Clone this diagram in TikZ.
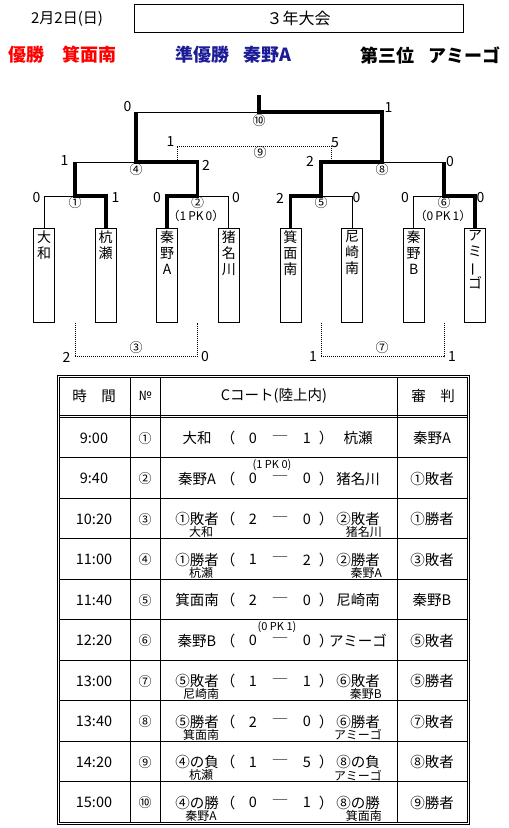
\documentclass[tikz,border=0pt]{standalone}
\usepackage{fontspec}
\setmainfont{Noto Sans CJK JP}
\usepackage{tikz}
\usetikzlibrary{positioning}
\definecolor{winnerred}{RGB}{255, 0, 0}
\definecolor{runnerblue}{RGB}{28, 28, 150}
\newcommand{\vname}[1]{\parbox[t][90pt][t]{17pt}{\centering #1}}

\begin{document}
\begin{tikzpicture}[x=1pt, y=-1pt,
    team/.style={draw, line width=0.8pt, anchor=north, inner sep=2pt,
                 font=\fontsize{14}{16}\selectfont},
    wonline/.style={line width=3.8pt},
    lostline/.style={line width=0.8pt},
    dotline/.style={line width=0.7pt, dash pattern=on 1pt off 1pt},
    score/.style={inner sep=0pt, font=\fontsize{14}{14}\selectfont},
    gameno/.style={inner sep=0pt, font=\fontsize{13}{13}\selectfont},
    pkline/.style={inner sep=0pt, font=\fontsize{12}{12}\selectfont},
    cell/.style={inner sep=0pt, font=\fontsize{14.5}{14.5}\selectfont},
    subname/.style={inner sep=0pt, font=\fontsize{12}{12}\selectfont},
    result/.style={anchor=west, inner sep=0pt,
                   font=\fontsize{18}{18}\selectfont\bfseries, text=#1}
]
    \useasboundingbox (0,0) rectangle (509,828);

    % header
    \node[inner sep=0pt, font=\fontsize{15}{15}\selectfont] (date) at (67,19) {2月2日(日)};
    \node[draw, line width=0.8pt, minimum width=329pt, minimum height=28pt,
          font=\fontsize{16}{16}\selectfont] (title) at (298.5,18) {３年大会};
    \node[result=winnerred] (champ) at (8,55) {優勝\hspace{1em}箕面南};
    \node[result=runnerblue] (runner) at (175,55) {準優勝\hspace{0.8em}秦野A};
    \node[result=black] (third) at (360,55) {第三位\hspace{0.8em}アミーゴ};

    % teams
    \foreach \i/\nm in {1/{大\\和}, 2/{杭\\瀬}, 3/{秦\\野\\A}, 4/{猪\\名\\川},
                        5/{箕\\面\\南}, 6/{尼\\崎\\南}, 7/{秦\\野\\B},
                        8/{ア\\ミ\\\rotatebox[origin=c]{90}{ー}\\ゴ}}
        \node[team] (t\i) at ({44+61.6*(\i-1)},228) {\vname{\nm}};

    % bracket
    \coordinate (m1) at (75,196);
    \coordinate (m2) at (197.5,196);
    \coordinate (m5) at (321,196);
    \coordinate (m6) at (444,196);
    \coordinate (m4) at (136,162);
    \coordinate (m8) at (382,162);
    \coordinate (m10) at (259,112);
    \coordinate (top) at (259,95);
    \coordinate (d9a) at (177,162);
    \coordinate (d9b) at (331,162);

    \draw[lostline] (t1.north) |- (m1);
    \draw[lostline] (t4.north) |- (m2);
    \draw[lostline] (t6.north) |- (m5);
    \draw[lostline] (t7.north) |- (m6);
    \draw[lostline] (m1 |- m4) -- (m4);
    \draw[lostline] (m6 |- m8) -- (m8);
    \draw[lostline] (m4 |- m10) -- (m10);

    \draw[dotline] (d9a) -- ++(0,-16) -| (d9b);
    \draw[dotline] (t1.south -| m1) -- ++(0,34) -| (t1.south -| m2);
    \draw[dotline] (t1.south -| m5) -- ++(0,34) -| (t1.south -| m6);

    \draw[wonline] (t2.north) |- (m1) -- (m1 |- m4);
    \draw[wonline] (t3.north) |- (m2) -- (m2 |- m4) -- (m4) -- (m4 |- m10);
    \draw[wonline] (t5.north) |- (m5) -- (m5 |- m8) -- (m8) -- (m8 |- m10) -- (m10) -- (top);
    \draw[wonline] (t8.north) |- (m6) -- (m6 |- m8);

    % scores on the bracket
    \node[score] (f0) at (127.5,107) {0};
    \node[score] (f1) at (388.5,108) {1};
    \node[score] (c1) at (170.5,142) {1};
    \node[score] (c5) at (335,143) {5};
    \node[score] (s1) at (64.5,161) {1};
    \node[score] (s2) at (206,165) {2};
    \node[score] (s3) at (310,161) {2};
    \node[score] (s4) at (450,162) {0};
    \foreach \x/\v [count=\n] in {36.5/0, 115.5/1, 157/0, 236/0, 280/2, 356.5/0, 405/0, 480.5/0}
        \node[score] (r\n) at (\x,198) {\v};
    \foreach \x/\v [count=\n] in {66.5/2, 205/0, 313/1, 452/1}
        \node[score] (b\n) at (\x,357) {\v};

    % game numbers
    \foreach \g/\x/\y [count=\n] in {①/75/203, ②/197.5/203, ⑤/321/203, ⑥/444/203,
                                     ④/136/170, ⑧/382/170, ⑩/259/121, ⑨/260/153,
                                     ③/136/348, ⑦/382/348}
        \node[gameno] (g\n) at (\x,\y) {\g};
    \node[pkline] (pk2) at (196,216) {（1\,PK\,0）};
    \node[pkline] (pk6) at (443,216) {（0\,PK\,1）};

    % schedule table
    \draw[lostline] (57,375) rectangle (469,824);
    \draw[lostline] (59,377) rectangle (467,822);
    \draw[lostline] (59,415) -- (467,415);
    \draw[lostline] (59,417) -- (467,417);
    \foreach \k in {1,...,9}
        \draw[lostline] (59,{417+40.5*\k}) -- (467,{417+40.5*\k});
    \foreach \cx in {130,160,397}
        \draw[lostline] (\cx,377) -- (\cx,822);

    \node[cell] (hd1) at (94,396) {時　間};
    \node[gameno] (hd2) at (145,396) {№};
    \node[cell] (hd3) at (274,396) {Cコート(陸上内)};
    \node[cell] (hd4) at (433,396) {審　判};

    \foreach \k/\tm/\no/\lt/\sa/\sb/\rt/\rf in {
        1/9:00/①/大和/0/1/杭瀬/秦野A,
        2/9:40/②/秦野A/0/0/猪名川/①敗者,
        3/10:20/③/①敗者/2/0/②敗者/①勝者,
        4/11:00/④/①勝者/1/2/②勝者/③敗者,
        5/11:40/⑤/箕面南/2/0/尼崎南/秦野B,
        6/12:20/⑥/秦野B/0/0/アミーゴ/⑤敗者,
        7/13:00/⑦/⑤敗者/1/1/⑥敗者/⑤勝者,
        8/13:40/⑧/⑤勝者/2/0/⑥勝者/⑦敗者,
        9/14:20/⑨/④の負/1/5/⑧の負/⑧敗者,
        10/15:00/⑩/④の勝/0/1/⑧の勝/⑨勝者}{
        \pgfmathsetmacro\yy{417+40.5*(\k-0.5)+1}
        \node[cell] (tm\k) at (94,\yy) {\tm};
        \node[gameno] (no\k) at (145,\yy) {\no};
        \node[cell] (lt\k) at (197,\yy) {\lt};
        \node[cell] (pa\k) at (228,\yy) {（};
        \node[cell] (sa\k) at (253,\yy) {\sa};
        \node[cell] (da\k) at (280,\yy) {─};
        \node[cell] (sb\k) at (307,\yy) {\sb};
        \node[cell] (pb\k) at (326,\yy) {）};
        \node[cell] (rt\k) at (358,\yy) {\rt};
        \node[cell] (rf\k) at (432,\yy) {\rf};
    }
    \foreach \k/\ls/\rs in {3/大和/猪名川, 4/杭瀬/秦野A, 7/尼崎南/秦野B,
                            8/箕面南/アミーゴ, 9/杭瀬/アミーゴ, 10/秦野A/箕面南}{
        \pgfmathsetmacro\yy{417+40.5*(\k-0.5)+14}
        \node[subname] (ls\k) at (201,\yy) {\ls};
        \node[subname, anchor=east] (rs\k) at (382,\yy) {\rs};
    }
    \node[pkline, font=\fontsize{11}{11}\selectfont] (tpk2) at (272,{417+40.5*1.5-13}) {(1 PK 0)};
    \node[pkline, font=\fontsize{11}{11}\selectfont] (tpk6) at (277,{417+40.5*5.5-13}) {(0 PK 1)};
\end{tikzpicture}
\end{document}
